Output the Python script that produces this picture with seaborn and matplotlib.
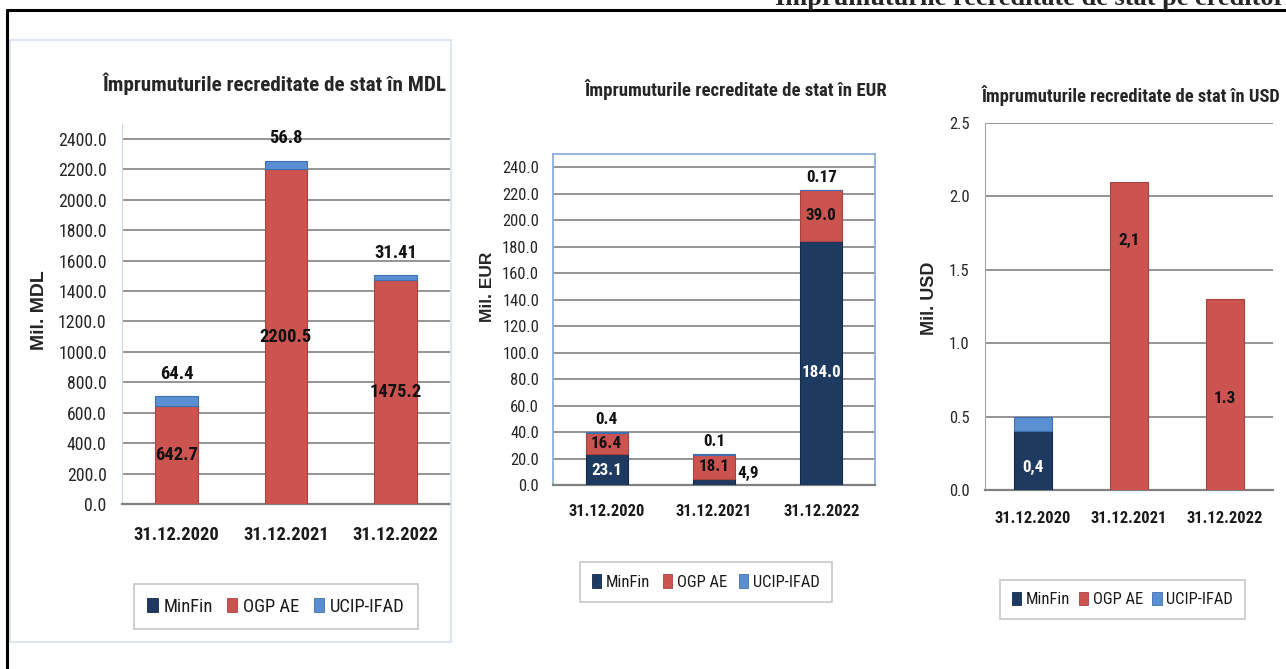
import matplotlib
matplotlib.use("Agg")
import matplotlib.pyplot as plt
import seaborn as sns
import numpy as np
from matplotlib import font_manager
from matplotlib.patches import Patch, Rectangle
from matplotlib.lines import Line2D

# ---------------- data ----------------
dates = ["31.12.2020", "31.12.2021", "31.12.2022"]
series = ["MinFin", "OGP AE", "UCIP-IFAD"]

mdl_minfin = [0.0, 0.0, 0.0]
mdl_ogp = [642.7, 2200.5, 1475.2]
mdl_ucip = [64.4, 56.8, 31.41]

eur_minfin = [23.1, 4.9, 184.0]
eur_ogp = [16.4, 18.1, 39.0]
eur_ucip = [0.4, 0.1, 0.17]

usd_minfin = [0.4, 0.0, 0.0]
usd_ogp = [0.0, 2.1, 1.3]
usd_ucip = [0.1, 0.0, 0.0]

mdl_ogp_lbl = ["642.7", "2200.5", "1475.2"]
mdl_ucip_lbl = ["64.4", "56.8", "31.41"]
eur_minfin_lbl = ["23.1", "4,9", "184.0"]
eur_ogp_lbl = ["16.4", "18.1", "39.0"]
eur_ucip_lbl = ["0.4", "0.1", "0.17"]
usd_lbl = ["0,4", "2,1", "1.3"]

# ---------------- style ----------------
sns.set_style("white")
names = {f.name for f in font_manager.fontManager.ttflist}
FONT, K = "Liberation Sans", 0.84
for cand, k in [("Liberation Sans Narrow", 1.0), ("Roboto Condensed", 0.95),
                ("Open Sans Condensed", 1.0)]:
    if cand in names:
        FONT, K = cand, k
        break
plt.rcParams["font.family"] = [FONT, "DejaVu Sans"]

C_MIN = "#1F3A60"
C_OGP = "#CB5350"
C_UCIP = "#5A8FD2"
colors = {"MinFin": C_MIN, "OGP AE": C_OGP, "UCIP-IFAD": C_UCIP}
edges = {"MinFin": "#15294A", "OGP AE": "#A84340", "UCIP-IFAD": "#3F6FAE"}
GRID = "#8C8C8C"

W, H = 1286, 669
fig = plt.figure(figsize=(W / 100, H / 100), dpi=100)


def rect(l, r, t, b):
    return [l / W, 1 - b / H, (r - l) / W, (b - t) / H]


def draw(ax, stacks, width):
    bottoms = np.zeros(len(dates))
    for name, vals in stacks:
        vals = np.asarray(vals, dtype=float)
        n0 = len(ax.patches)
        sns.barplot(x=dates, y=vals, bottom=bottoms, color=colors[name],
                    width=width, saturation=1, ax=ax, linewidth=0.8,
                    edgecolor=edges[name], zorder=3)
        for p in ax.patches[n0:]:
            if p.get_height() == 0:
                p.set_visible(False)
        bottoms = bottoms + vals
    return bottoms


def style_axes(ax, ylim, ticks, fmt, tsize, xsize, ypad, xpad):
    ax.set_xlim(-0.5, 2.5)
    ax.set_ylim(*ylim)
    ax.set_yticks(ticks)
    ax.set_yticklabels([fmt % t for t in ticks], fontsize=tsize * K,
                       color="#262626")
    ax.set_xticks(range(3))
    ax.set_xticklabels(dates, fontsize=xsize * K, fontweight="bold",
                       color="#1A1A1A")
    ax.tick_params(axis="y", length=0, pad=ypad)
    ax.tick_params(axis="x", length=0, pad=xpad)
    ax.set_xlabel("")
    ax.set_ylabel("")
    ax.yaxis.grid(True, color=GRID, linewidth=1.3, zorder=0)
    ax.xaxis.grid(False)
    ax.set_axisbelow(True)


def legend_at(cx, cy, fsize, colsp):
    handles = [Patch(facecolor=colors[s], edgecolor=edges[s], linewidth=0.6)
               for s in series]
    leg = fig.legend(handles, series, loc="center",
                     bbox_to_anchor=(cx / W, 1 - cy / H), ncol=3,
                     fontsize=fsize * K, frameon=True, fancybox=False,
                     handlelength=0.55, handleheight=0.85,
                     handletextpad=0.3, columnspacing=colsp,
                     borderpad=0.72, borderaxespad=0)
    leg.get_frame().set_edgecolor("#BFBFBF")
    leg.get_frame().set_linewidth(1.3)
    for t in leg.get_texts():
        t.set_color("#1A1A1A")


# ---------------- outer frame + page title ----------------
fig.add_artist(Line2D([7 / W, 1.0], [1 - 9.5 / H, 1 - 9.5 / H],
                      transform=fig.transFigure, color="black", lw=2.2))
fig.add_artist(Line2D([7 / W, 7 / W], [1 - 9.5 / H, 0.0],
                      transform=fig.transFigure, color="black", lw=2.2))
fig.text(775 / W, 1 - 5 / H, "Împrumuturile recreditate de stat pe creditori",
         fontsize=19, fontweight="bold",
         family=["Liberation Serif", "DejaVu Serif"],
         ha="left", va="baseline")

# panel 1 light box
fig.add_artist(Rectangle((10 / W, 1 - 642 / H), (451 - 10) / W, (642 - 40) / H,
                         transform=fig.transFigure, fill=False,
                         edgecolor="#D6E2F0", lw=1.2))

# ---------------- panel 1 : MDL ----------------
ax1 = fig.add_axes(rect(122, 450, 123.7, 504))
tot1 = draw(ax1, [("MinFin", mdl_minfin), ("OGP AE", mdl_ogp),
                  ("UCIP-IFAD", mdl_ucip)], 0.39)
style_axes(ax1, (0, 2500), np.arange(0, 2401, 200), "%.1f", 13.5, 14, 11, 16)
for s in ["top", "right"]:
    ax1.spines[s].set_visible(False)
ax1.spines["left"].set_color("#C9D8EC")
ax1.spines["bottom"].set_color("#808080")
ax1.spines["bottom"].set_linewidth(1.6)
for i in range(3):
    ax1.text(i, mdl_ogp[i] / 2, mdl_ogp_lbl[i], ha="center", va="center",
             fontsize=14 * K, fontweight="bold", color="#111111", zorder=5)
    ax1.annotate(mdl_ucip_lbl[i], (i, tot1[i]), xytext=(0, 16),
                 textcoords="offset points", ha="center", va="center",
                 fontsize=14 * K, fontweight="bold", color="#111111")
fig.text(275 / W, 1 - 84 / H, "Împrumuturile recreditate de stat în MDL",
         ha="center", va="center", fontsize=16 * K, fontweight="bold")
fig.text(40 / W, 1 - 310 / H, "Mil. MDL", rotation=90, ha="center",
         va="center", fontsize=14, fontweight="bold",
         family=["Liberation Sans", "DejaVu Sans"])
legend_at(276, 606.5, 14, 0.8)

# ---------------- panel 2 : EUR ----------------
ax2 = fig.add_axes(rect(553, 875, 154, 485))
tot2 = draw(ax2, [("MinFin", eur_minfin), ("OGP AE", eur_ogp),
                  ("UCIP-IFAD", eur_ucip)], 0.39)
style_axes(ax2, (0, 250), np.arange(0, 241, 20), "%.1f", 12.5, 12.5, 10, 14)
for s in ["top", "right", "left"]:
    ax2.spines[s].set_color("#8EAED8")
    ax2.spines[s].set_linewidth(1.3)
ax2.spines["bottom"].set_color("#808080")
ax2.spines["bottom"].set_linewidth(1.6)
for i in range(3):
    if i == 1:
        ax2.annotate(eur_minfin_lbl[i], (i + 0.195, eur_minfin[i] * 1.7),
                     xytext=(2, 0), textcoords="offset points",
                     ha="left", va="center", fontsize=13 * K,
                     fontweight="bold", color="#111111")
    else:
        ax2.text(i, eur_minfin[i] * 0.46, eur_minfin_lbl[i], ha="center",
                 va="center", fontsize=13 * K, fontweight="bold",
                 color="white", zorder=5)
    ax2.text(i, eur_minfin[i] + eur_ogp[i] / 2, eur_ogp_lbl[i], ha="center",
             va="center", fontsize=13 * K, fontweight="bold",
             color="#111111", zorder=5)
    ax2.annotate(eur_ucip_lbl[i], (i, tot2[i]), xytext=(0, 9),
                 textcoords="offset points", ha="center", va="center",
                 fontsize=13 * K, fontweight="bold", color="#111111")
fig.text(736 / W, 1 - 89 / H, "Împrumuturile recreditate de stat în EUR",
         ha="center", va="center", fontsize=14.2 * K, fontweight="bold")
fig.text(487 / W, 1 - 287 / H, "Mil. EUR", rotation=90, ha="center",
         va="center", fontsize=12.5, fontweight="bold",
         family=["Liberation Sans", "DejaVu Sans"])
legend_at(706, 582, 12.5, 0.75)

# ---------------- panel 3 : USD ----------------
ax3 = fig.add_axes(rect(985, 1273, 123, 490))
tot3 = draw(ax3, [("MinFin", usd_minfin), ("OGP AE", usd_ogp),
                  ("UCIP-IFAD", usd_ucip)], 0.40)
style_axes(ax3, (0, 2.5), np.arange(0, 2.51, 0.5), "%.1f", 12.5, 12.5, 11, 15)
for s in ["top", "right"]:
    ax3.spines[s].set_visible(False)
ax3.spines["left"].set_color("#A6A6A6")
ax3.spines["bottom"].set_color("#808080")
ax3.spines["bottom"].set_linewidth(1.6)
usd_frac = [0.375, 0.81, 0.48]
for i in range(3):
    seg = usd_minfin[i] if i == 0 else usd_ogp[i]
    ax3.text(i, seg * usd_frac[i], usd_lbl[i], ha="center", va="center",
             fontsize=13 * K, fontweight="bold",
             color="white" if i == 0 else "#111111", zorder=5)
fig.text(1131 / W, 1 - 95 / H, "Împrumuturile recreditate de stat în USD",
         ha="center", va="center", fontsize=14 * K, fontweight="bold")
fig.text(930 / W, 1 - 298 / H, "Mil. USD", rotation=90, ha="center",
         va="center", fontsize=13, fontweight="bold",
         family=["Liberation Sans", "DejaVu Sans"])
legend_at(1122.5, 599.5, 12.5, 0.55)

fig.savefig("out.png", dpi=100)
